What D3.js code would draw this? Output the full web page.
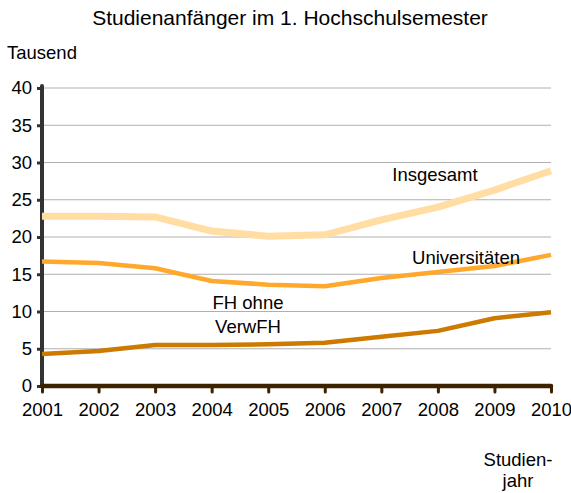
<!DOCTYPE html>
<html>
<head>
<meta charset="utf-8">
<script src="https://cdn.jsdelivr.net/npm/d3@7"></script>
<style>
  body { margin: 0; background: #fff; }
  svg { font-family: "Liberation Sans", Arial, sans-serif; }
</style>
</head>
<body>
<svg id="chart" width="571" height="493"></svg>
<script>
const years = [2001, 2002, 2003, 2004, 2005, 2006, 2007, 2008, 2009, 2010];
const insgesamt = [22.8, 22.8, 22.7, 20.8, 20.1, 20.3, 22.3, 24.0, 26.3, 28.9];
const universitaeten = [16.7, 16.5, 15.8, 14.1, 13.6, 13.4, 14.5, 15.3, 16.1, 17.6];
const fhOhneVerwFH = [4.3, 4.7, 5.5, 5.5, 5.6, 5.8, 6.6, 7.4, 9.1, 9.9];
const yTicks = [0, 5, 10, 15, 20, 25, 30, 35, 40];

const svg = d3.select("#chart");
const plot = { left: 42, right: 551, top: 88, bottom: 386 };
const fontSize = 18.5;

const x = d3.scaleLinear().domain([2001, 2010]).range([plot.left, plot.right]);
const y = d3.scaleLinear().domain([0, 40]).range([plot.bottom, plot.top]);

// grid
svg.append("g")
  .selectAll("line")
  .data(yTicks.slice(1))
  .join("line")
  .attr("x1", plot.left).attr("x2", plot.right)
  .attr("y1", d => y(d)).attr("y2", d => y(d))
  .attr("stroke", "#b0b0b0").attr("stroke-width", 1);

// y axis
const yAxis = svg.append("g")
  .attr("transform", `translate(${plot.left},0)`)
  .call(d3.axisLeft(y).tickValues(yTicks).tickSize(5).tickPadding(5));
yAxis.select(".domain").remove();
yAxis.selectAll(".tick line").attr("stroke", "#333").attr("stroke-width", 3);
yAxis.selectAll(".tick text").attr("font-size", fontSize).attr("fill", "#000");
svg.append("line")
  .attr("x1", plot.left).attr("x2", plot.left).attr("y1", plot.top - 2).attr("y2", plot.bottom)
  .attr("stroke", "#333").attr("stroke-width", 4).attr("stroke-linecap", "round");

// lines
const line = d3.line().x((d, i) => x(years[i])).y(d => y(d));
const series = [
  { values: insgesamt, color: "#ffdda3", width: 7 },
  { values: universitaeten, color: "#ffa82c", width: 4.5 },
  { values: fhOhneVerwFH, color: "#cc7a00", width: 4.5 }
];
svg.append("g")
  .selectAll("path")
  .data(series)
  .join("path")
  .attr("d", d => line(d.values))
  .attr("fill", "none")
  .attr("stroke", d => d.color)
  .attr("stroke-width", d => d.width)
  .attr("stroke-linejoin", "round");

// x axis
const xAxis = svg.append("g")
  .attr("transform", `translate(0,${plot.bottom})`)
  .call(d3.axisBottom(x).tickValues(years).tickFormat(d3.format("d")).tickSize(6).tickPadding(11));
xAxis.select(".domain").remove();
xAxis.selectAll(".tick line").attr("stroke", "#3d2200").attr("stroke-width", 3).attr("stroke-linecap", "round");
xAxis.selectAll(".tick text").attr("font-size", fontSize).attr("fill", "#000");
svg.append("line")
  .attr("x1", plot.left).attr("x2", plot.right).attr("y1", plot.bottom).attr("y2", plot.bottom)
  .attr("stroke", "#3d2200").attr("stroke-width", 4.5).attr("stroke-linecap", "round");

// texts
svg.append("text").attr("x", 290).attr("y", 25).attr("text-anchor", "middle")
  .attr("font-size", 21).text("Studienanfänger im 1. Hochschulsemester");
svg.append("text").attr("x", 7).attr("y", 59).attr("font-size", fontSize).text("Tausend");

const labels = [
  { text: "Insgesamt", x: 435, y: 181 },
  { text: "Universitäten", x: 466, y: 264 },
  { text: "FH ohne", x: 248, y: 309 },
  { text: "VerwFH", x: 248, y: 333 },
  { text: "Studien-", x: 518, y: 466 },
  { text: "jahr", x: 518, y: 487 }
];
svg.append("g")
  .selectAll("text")
  .data(labels)
  .join("text")
  .attr("x", d => d.x).attr("y", d => d.y)
  .attr("text-anchor", "middle").attr("font-size", fontSize)
  .text(d => d.text);
</script>
</body>
</html>
